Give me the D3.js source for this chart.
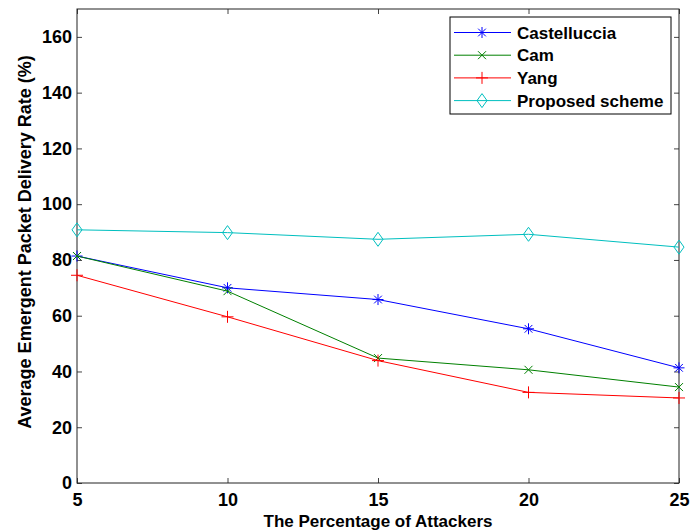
<!DOCTYPE html>
<html>
<head>
<meta charset="utf-8">
<script src="https://cdn.jsdelivr.net/npm/d3@7/dist/d3.min.js"></script>
<style>
  body { margin: 0; background: #fff; }
  svg { display: block; font-family: "Liberation Sans", Arial, sans-serif; }
</style>
</head>
<body>
<div id="chart"></div>
<script>
// percentage of attackers
const attackers = [5, 10, 15, 20, 25];
const castelluccia = [81.4, 70.0, 65.8, 55.3, 41.3];
const cam = [81.4, 68.8, 44.8, 40.6, 34.4];
const yang = [74.5, 59.6, 43.9, 32.5, 30.5];
const proposed = [90.8, 89.8, 87.4, 89.2, 84.6];
const xTicks = [5, 10, 15, 20, 25];
const yTicks = [0, 20, 40, 60, 80, 100, 120, 140, 160];

const series = [
    { name: 'Castelluccia', values: castelluccia, color: '#0000ff', marker: 'star' },
    { name: 'Cam', values: cam, color: '#008000', marker: 'x' },
    { name: 'Yang', values: yang, color: '#ff0000', marker: 'plus' },
    { name: 'Proposed scheme', values: proposed, color: '#00bfbf', marker: 'diamond' }
];

const width = 691, height = 531;
const margin = { top: 9, right: 12, bottom: 48, left: 77 };
const w = width - margin.left - margin.right;
const h = height - margin.top - margin.bottom;

const svg = d3.select('#chart').append('svg')
    .attr('width', width).attr('height', height);
const g = svg.append('g').attr('transform', `translate(${margin.left},${margin.top})`);

const x = d3.scaleLinear().domain([5, 25]).range([0, w]);
const y = d3.scaleLinear().domain([0, 170]).range([h, 0]);

// axes with inward ticks, matlab style
const tickFont = g => g.selectAll('text')
    .style('font-size', '18px').style('font-weight', 'bold').attr('fill', '#000');

g.append('g').attr('transform', `translate(0,${h})`)
    .call(d3.axisBottom(x).tickValues(xTicks).tickSize(-5).tickPadding(10))
    .call(tickFont)
    .call(a => a.select('.domain').remove());
g.append('g')
    .call(d3.axisLeft(y).tickValues(yTicks).tickSize(-5).tickPadding(5))
    .call(tickFont)
    .call(a => a.select('.domain').remove());
g.append('g')
    .call(d3.axisTop(x).tickValues(xTicks).tickSize(-5).tickFormat(''))
    .call(a => a.select('.domain').remove());
g.append('g').attr('transform', `translate(${w},0)`)
    .call(d3.axisRight(y).tickValues(yTicks).tickSize(-5).tickFormat(''))
    .call(a => a.select('.domain').remove());
g.selectAll('.tick line').attr('stroke', '#444');

g.append('rect').attr('width', w).attr('height', h)
    .attr('fill', 'none').attr('stroke', '#222').attr('stroke-width', 1);

const line = d3.line()
    .x((d, i) => x(attackers[i]))
    .y(d => y(d));

function drawMarker(sel, type, color) {
    sel.attr('fill', 'none').attr('stroke', color).attr('stroke-width', 1);
    const s = 5.5;
    if (type === 'star') {
        sel.append('path').attr('d', `M${-s},0H${s}M0,${-s}V${s}M${-s * 0.7},${-s * 0.7}L${s * 0.7},${s * 0.7}M${-s * 0.7},${s * 0.7}L${s * 0.7},${-s * 0.7}`);
    } else if (type === 'x') {
        sel.append('path').attr('d', `M${-4},${-4}L4,4M${-4},4L4,${-4}`);
    } else if (type === 'plus') {
        sel.append('path').attr('d', `M${-6},0H6M0,${-6}V6`);
    } else if (type === 'diamond') {
        sel.append('path').attr('d', `M0,-7L5,0L0,7L-5,0Z`);
    }
}

series.forEach(s => {
    g.append('path').datum(s.values)
        .attr('fill', 'none').attr('stroke', s.color).attr('stroke-width', 1)
        .attr('d', line);
    s.values.forEach((v, i) => {
        g.append('g').attr('transform', `translate(${x(attackers[i])},${y(v)})`)
            .call(m => drawMarker(m, s.marker, s.color));
    });
});

// legend
const lg = svg.append('g').attr('transform', 'translate(450,17)');
lg.append('rect').attr('width', 221).attr('height', 97)
    .attr('fill', '#fff').attr('stroke', '#000').attr('stroke-width', 1);
series.forEach((s, i) => {
    const ry = 15.5 + i * 22.7;
    lg.append('line').attr('x1', 4).attr('x2', 61).attr('y1', ry).attr('y2', ry)
        .attr('stroke', s.color).attr('stroke-width', 1);
    lg.append('g').attr('transform', `translate(32,${ry})`)
        .call(m => drawMarker(m, s.marker, s.color));
    lg.append('text').attr('x', 67).attr('y', ry + 6)
        .style('font-size', '17px').style('font-weight', 'bold')
        .text(s.name);
});

svg.append('text')
    .attr('x', margin.left + w / 2).attr('y', 527)
    .attr('text-anchor', 'middle')
    .style('font-size', '17px').style('font-weight', 'bold')
    .text('The Percentage of Attackers');

svg.append('text')
    .attr('transform', `translate(31,242) rotate(-90)`)
    .attr('text-anchor', 'middle')
    .style('font-size', '18px').style('font-weight', 'bold')
    .text('Average Emergent Packet Delivery Rate (%)');
</script>
</body>
</html>
